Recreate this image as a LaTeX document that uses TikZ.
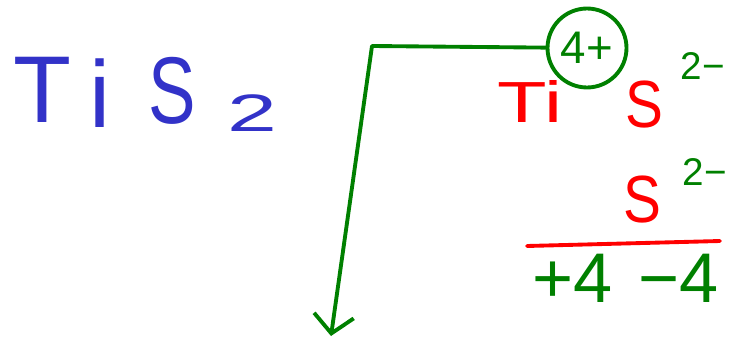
\documentclass[tikz,border=0pt]{standalone}
\usepackage{fontspec}
\setmainfont{Liberation Sans}
\usetikzlibrary{arrows.meta}
\definecolor{inkblue}{RGB}{50,50,200}
\definecolor{inkgreen}{RGB}{0,128,0}
\definecolor{inkred}{RGB}{255,0,0}
\newcommand{\fs}[1]{\fontsize{#1}{#1}\selectfont}
\begin{document}
\begin{tikzpicture}[x=0.02cm, y=-0.02cm, line cap=round, line join=round]
        \tikzset{ink/.style={inner sep=0pt, anchor=base},
                 charge/.style={ink, text=inkgreen, font=\fs{22pt}},
                 ion/.style={ink, text=inkred, font=\fs{38pt}, xscale=0.85, transform shape}}
        \useasboundingbox (0,0) rectangle (736,341);
        % formula
        \node[ink, text=inkblue, font=\fs{54pt}] (tT) at (42,122) {T};
        \node[ink, text=inkblue, font=\fs{54pt}] (ti) at (100,127) {i};
        \node[ink, text=inkblue, font=\fs{54pt}, xscale=0.75, transform shape] (tS) at (172,123) {S};
        \node[ink, text=inkblue, font=\fs{30pt}, xscale=1.7, transform shape] (t2) at (252,131) {2};
        % ions
        \node[ink, text=inkred, font=\fs{33pt}, xscale=1.4, transform shape] (ti4) at (530,122) {Ti};
        \node[ion] (s1) at (644,127) {S};
        \node[charge] (c1) at (703,80) {2−};
        \node[ion] (s2) at (642,222) {S};
        \node[charge] (c2) at (705,185) {2−};
        \draw[inkred, line width=2.2pt] (527,246) -- (720,241);
        \node[ink, text=inkgreen, font=\fs{40pt}] (p4) at (573,302) {+4};
        \node[ink, text=inkgreen, font=\fs{40pt}] (m4) at (679,302) {−4};
        % oxidation state and arrow
        \node[draw=inkgreen, line width=2.2pt, circle, minimum size=1.58cm, inner sep=0pt,
              text=inkgreen, font=\fs{26pt}] (ox) at (587,48) {4+};
        \coordinate (bend) at (372,46);
        \coordinate (tip) at (331,336);
        \draw[inkgreen, line width=2.2pt, -{Straight Barb[length=0.36cm, width=0.8cm]}]
              (ox) -- (bend) -- (tip);
\end{tikzpicture}
\end{document}
